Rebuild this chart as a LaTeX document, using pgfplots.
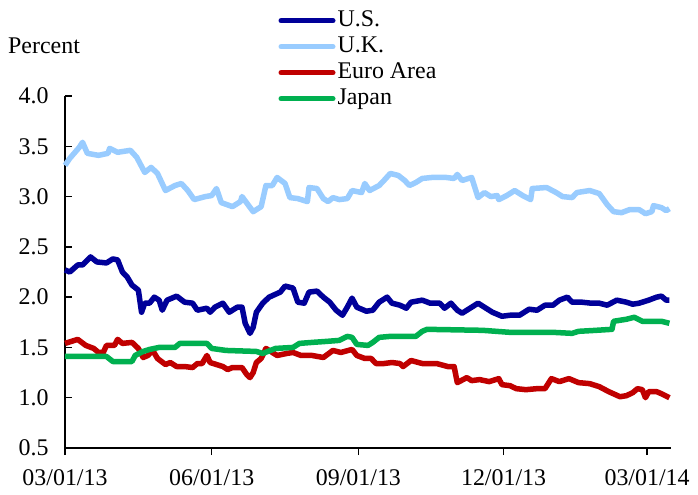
\documentclass[border=0pt]{standalone}
\usepackage{fontspec}
\setmainfont{Liberation Serif}
\usepackage{pgfplots}
\pgfplotsset{compat=1.18}
\definecolor{usblue}{RGB}{0,0,153}
\definecolor{ukblue}{RGB}{153,204,255}
\definecolor{eured}{RGB}{192,0,0}
\definecolor{jpgreen}{RGB}{0,176,80}
\begin{document}
\begin{tikzpicture}[font=\fontsize{24}{28}\selectfont]
\useasboundingbox (-65bp,-47bp) rectangle (633bp,448bp);
\begin{axis}[
  at={(0,0)}, anchor=south west,
  scale only axis, width=606bp, height=352bp,
  xmin=0, xmax=380, ymin=0.5, ymax=4.0,
  axis lines=left, axis line style={-, line width=1.5bp},
  tick align=inside, major tick length=7bp,
  tick style={line width=1.5bp, black},
  x tick style={yshift=-7bp},
  xtick={0,92,184,275,365},
  xticklabels={03/01/13,06/01/13,09/01/13,12/01/13,03/01/14},
  ytick={0.5,1.0,1.5,2.0,2.5,3.0,3.5,4.0},
  /pgf/number format/assume math mode=true,
  /pgf/number format/fixed,
  /pgf/number format/fixed zerofill,
  /pgf/number format/precision=1,
  yticklabel style={xshift=-13bp},
  xticklabel style={yshift=-19bp, inner sep=2bp},
  legend style={at={(rel axis cs:0.352,1.251)}, anchor=north west, draw=none, fill=none,
    inner sep=0pt, row sep=0pt, column sep=0pt,
    nodes={inner sep=2bp, text height=17bp, text depth=5bp, anchor=west}},
  legend cell align=left,
  legend image code/.code={\draw[#1, line width=5bp, line cap=round] (0bp,0bp) -- (52bp,0bp);},
  every axis plot/.append style={line width=5.5bp, line join=round},
  clip=false,
]
\addplot[usblue] coordinates {
(0,2.27)(3,2.25)(8,2.32)(11,2.32)(16,2.40)(20,2.35)(26,2.34)(30,2.38)(33,2.37)(36,2.25)
(39,2.20)(42,2.12)(46,2.07)(48,1.85)(50,1.94)(53,1.94)(56,2.00)(59,1.97)(61,1.87)(64,1.97)
(70,2.01)(75,1.95)(80,1.94)(83,1.87)(89,1.89)(91,1.85)(94,1.90)(99,1.94)(103,1.85)(108,1.90)
(111,1.90)(113,1.74)(116,1.64)(118,1.70)(120,1.85)(124,1.94)(128,2.00)(135,2.05)(138,2.11)
(143,2.09)(146,1.95)(150,1.94)(153,2.05)(158,2.06)(162,2.00)(166,1.95)(170,1.87)(174,1.82)
(177,1.90)(180,1.99)(183,1.90)(186,1.88)(189,1.86)(193,1.87)(197,1.95)(202,2.00)(205,1.94)
(210,1.92)(214,1.89)(217,1.95)(224,1.97)(229,1.94)(235,1.94)(238,1.89)(242,1.94)(246,1.87)
(249,1.84)(254,1.89)(259,1.94)(263,1.90)(268,1.85)(274,1.81)(279,1.82)(285,1.82)(291,1.88)
(296,1.87)(301,1.92)(306,1.92)(310,1.97)(315,2.00)(318,1.95)(324,1.95)(330,1.94)(335,1.94)
(340,1.92)(346,1.97)(352,1.95)(356,1.93)(360,1.94)(366,1.97)(371,2.00)(374,2.01)(377,1.97)(379,1.97)
};
\addlegendentry{U.S.}
\addplot[ukblue] coordinates {
(0,3.31)(3,3.38)(9,3.49)(11,3.54)(14,3.43)(21,3.41)(27,3.43)(28,3.48)(33,3.44)(41,3.46)
(45,3.39)(50,3.24)(54,3.29)(58,3.23)(63,3.06)(69,3.11)(73,3.13)(77,3.06)(81,2.97)(88,3.00)
(92,3.01)(95,3.08)(98,2.94)(105,2.90)(110,2.95)(111,3.00)(118,2.85)(123,2.90)(126,3.11)
(130,3.11)(133,3.19)(138,3.13)(141,2.99)(146,2.98)(152,2.95)(153,3.09)(158,3.08)(162,2.98)
(165,2.95)(168,2.99)(172,2.97)(177,2.98)(180,3.06)(186,3.04)(188,3.13)(191,3.06)(197,3.11)
(200,3.16)(204,3.23)(209,3.21)(213,3.16)(216,3.11)(220,3.14)(224,3.18)(230,3.19)(239,3.19)
(244,3.18)(246,3.22)(249,3.16)(255,3.19)(259,2.99)(263,3.04)(267,3.00)(271,3.01)(272,2.97)
(277,3.01)(282,3.06)(287,3.01)(292,2.97)(293,3.08)(302,3.09)(308,3.04)(312,3.00)(318,2.99)
(321,3.04)(329,3.06)(335,3.03)(340,2.92)(344,2.85)(349,2.84)(354,2.87)(360,2.87)(364,2.83)
(368,2.85)(369,2.91)(374,2.89)(377,2.86)(379,2.88)
};
\addlegendentry{U.K.}
\addplot[eured] coordinates {
(0,1.54)(8,1.58)(13,1.52)(18,1.49)(21,1.45)(24,1.45)(26,1.52)(31,1.52)(33,1.58)(36,1.54)
(42,1.55)(46,1.49)(49,1.40)(52,1.42)(55,1.47)(58,1.39)(63,1.33)(66,1.35)(70,1.31)(75,1.31)
(80,1.30)(83,1.34)(86,1.34)(89,1.42)(91,1.35)(95,1.33)(99,1.31)(102,1.28)(105,1.30)(111,1.30)
(114,1.23)(116,1.20)(118,1.25)(120,1.35)(123,1.39)(126,1.49)(130,1.45)(133,1.42)(139,1.44)
(143,1.45)(148,1.42)(155,1.42)(162,1.40)(168,1.47)(173,1.45)(180,1.48)(183,1.42)(188,1.39)
(192,1.39)(195,1.34)(200,1.34)(205,1.35)(210,1.34)(212,1.31)(217,1.37)(224,1.34)(233,1.34)
(240,1.31)(244,1.31)(246,1.15)(252,1.20)(255,1.17)(260,1.18)(266,1.16)(272,1.19)(274,1.13)
(279,1.12)(283,1.09)(289,1.08)(296,1.09)(301,1.09)(305,1.19)(310,1.16)(316,1.19)(322,1.15)
(329,1.14)(335,1.11)(341,1.06)(348,1.01)(352,1.02)(356,1.05)(359,1.09)(362,1.08)(364,1.00)
(366,1.06)(371,1.06)(374,1.04)(379,1.00)
};
\addlegendentry{Euro Area}
\addplot[jpgreen] coordinates {
(0,1.41)(26,1.41)(30,1.36)(42,1.36)(44,1.42)(49,1.46)(53,1.48)(59,1.50)(69,1.50)(72,1.54)
(89,1.54)(92,1.49)(101,1.47)(120,1.46)(124,1.44)(132,1.49)(143,1.50)(147,1.54)(155,1.55)
(164,1.56)(172,1.57)(177,1.61)(180,1.60)(183,1.53)(190,1.52)(193,1.55)(197,1.60)(204,1.61)
(220,1.61)(224,1.66)(227,1.68)(262,1.67)(279,1.65)(306,1.65)(318,1.64)(322,1.66)(333,1.67)
(343,1.68)(344,1.76)(352,1.78)(357,1.80)(362,1.76)(374,1.76)(379,1.74)
};
\addlegendentry{Japan}
\end{axis}
\node[anchor=base west, inner sep=0pt] at (-57bp,394bp) {Percent};
\end{tikzpicture}
\end{document}
